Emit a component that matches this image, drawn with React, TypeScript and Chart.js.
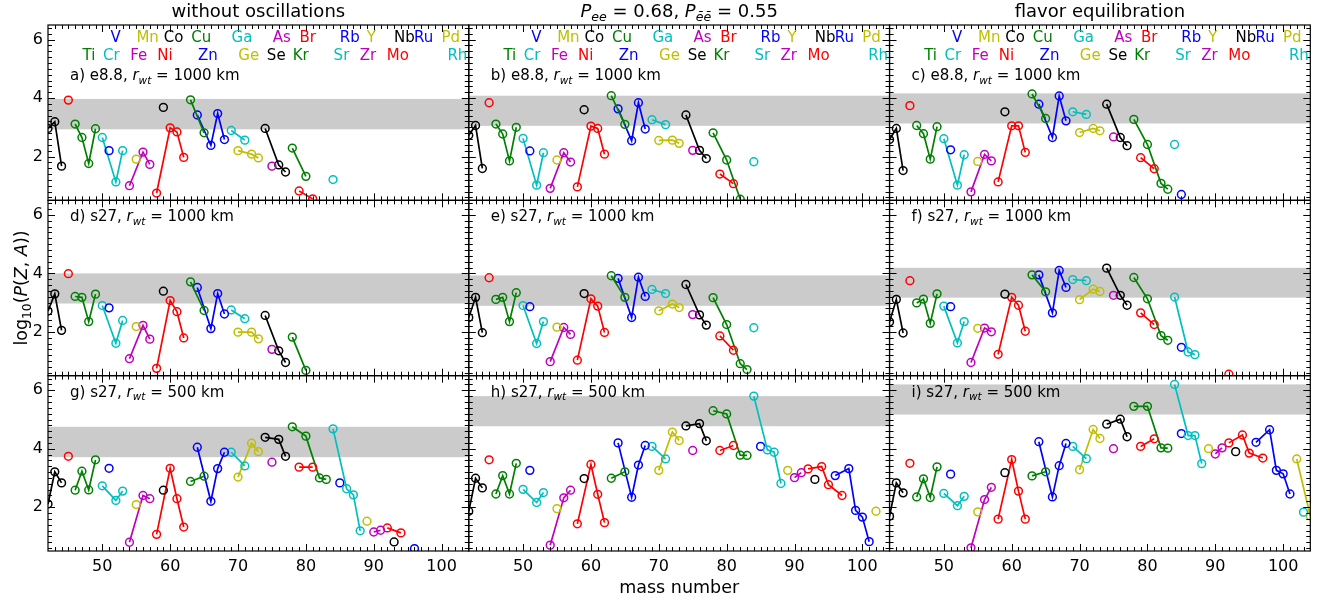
import React, { useEffect, useRef } from 'react';
import { Chart, registerables } from 'chart.js';

Chart.register(...registerables);

type Chain = [string, number[], number[]];

// ---------- axes ----------
const X_MIN = 42;
const X_MAX = 104;
const Y_MIN = 0.5;
const Y_MAX = 6.5;
const X_MAJOR = [50, 60, 70, 80, 90, 100];
const Y_MAJOR = [2, 4, 6];

// ---------- element colours (matplotlib classic cycle by Z) ----------
const ELEMENT_Z: Record<string, number> = {
  Ca: 20, Sc: 21, Ti: 22, V: 23, Cr: 24, Mn: 25, Fe: 26, Co: 27, Ni: 28, Cu: 29,
  Zn: 30, Ga: 31, Ge: 32, As: 33, Se: 34, Br: 35, Kr: 36, Rb: 37, Sr: 38, Y: 39,
  Zr: 40, Nb: 41, Mo: 42, Tc: 43, Ru: 44, Rh: 45, Pd: 46,
};
const COLOR_CYCLE = ['#008000', '#0000ff', '#00bfbf', '#bfbf00', '#bf00bf', '#000000', '#ff0000'];

// ---------- element labels on the top row ----------
const LABELS_ROW1 = ['V', 'Mn', 'Co', 'Cu', 'Ga', 'As', 'Br', 'Rb', 'Y', 'Nb', 'Ru', 'Pd'];
const LABELS_ROW1_POS = [51.96, 56.68, 60.49, 64.59, 70.59, 76.45, 80.26, 86.47, 89.63, 94.52, 97.34, 101.34];
const LABELS_ROW2 = ['Ti', 'Cr', 'Fe', 'Ni', 'Zn', 'Ge', 'Se', 'Kr', 'Sr', 'Zr', 'Mo', 'Rh'];
const LABELS_ROW2_POS = [48.05, 51.33, 55.37, 59.23, 65.57, 71.58, 75.63, 79.23, 85.24, 89.14, 93.54, 102.32];

// ---------- titles ----------
const COL_TITLE_1 = 'without oscillations';
const COL_TITLE_3 = 'flavor equilibration';
const PANEL_TAGS = ['a) e8.8, ', 'b) e8.8, ', 'c) e8.8, ', 'd) s27, ', 'e) s27, ', 'f) s27, ', 'g) s27, ', 'h) s27, ', 'i) s27, '];
const PANEL_RWT = ['1000', '1000', '1000', '1000', '1000', '1000', '500', '500', '500'];

// ---------- grey bands [low, high] ----------
const BANDS: [number, number][] = [
  [2.93, 3.97], [3.05, 4.08], [3.13, 4.16],
  [2.97, 4.0], [2.89, 3.93], [3.17, 4.19],
  [3.71, 4.75], [4.77, 5.8], [5.17, 6.2],
];

// ---------- data: [element, mass numbers, log10 P] ----------
const panelA: Chain[] = [
  ['Ca', [42, 43, 44], [2.96, 3.19, 1.67]],
  ['Sc', [45], [3.93]],
  ['Ti', [46, 47, 48, 49], [3.11, 2.65, 1.76, 2.95]],
  ['V', [51], [2.2]],
  ['Cr', [50, 52, 53], [2.65, 1.13, 2.2]],
  ['Mn', [55], [1.91]],
  ['Fe', [54, 56, 57], [1.0, 2.15, 1.73]],
  ['Co', [59], [3.68]],
  ['Ni', [58, 60, 61, 62], [0.75, 2.98, 2.84, 1.97]],
  ['Cu', [63, 65], [3.94, 2.81]],
  ['Zn', [64, 66, 67, 68], [3.42, 2.38, 3.47, 2.58]],
  ['Ga', [69, 71], [2.89, 2.56]],
  ['Ge', [70, 72, 73], [2.2, 2.08, 1.95]],
  ['As', [75], [1.67]],
  ['Se', [74, 76, 77], [2.96, 1.71, 1.47]],
  ['Br', [79, 81], [0.82, 0.55]],
  ['Kr', [78, 80], [2.29, 1.32]],
  ['Sr', [84], [1.21]],
];

const panelB: Chain[] = [
  ['Ca', [42, 43, 44], [2.73, 3.06, 1.59]],
  ['Sc', [45], [3.84]],
  ['Ti', [46, 47, 48, 49], [3.11, 2.77, 1.85, 3.0]],
  ['V', [51], [2.19]],
  ['Cr', [50, 52, 53], [2.62, 1.02, 2.13]],
  ['Mn', [55], [1.88]],
  ['Fe', [54, 56, 57], [0.91, 2.13, 1.81]],
  ['Co', [59], [3.6]],
  ['Ni', [58, 60, 61, 62], [0.96, 3.04, 2.96, 2.08]],
  ['Cu', [63, 65], [4.08, 3.1]],
  ['Zn', [64, 66, 67, 68], [3.63, 2.54, 3.84, 2.94]],
  ['Ga', [69, 71], [3.26, 3.09]],
  ['Ge', [70, 72, 73], [2.55, 2.56, 2.45]],
  ['As', [75], [2.21]],
  ['Se', [74, 76, 77], [3.42, 2.21, 1.93]],
  ['Br', [79, 81], [1.4, 1.07]],
  ['Kr', [78, 80, 82], [2.81, 1.88, 0.54]],
  ['Sr', [84], [1.82]],
];

const panelC: Chain[] = [
  ['Ca', [42, 43, 44], [2.58, 2.96, 1.52]],
  ['Sc', [45], [3.74]],
  ['Ti', [46, 47, 48, 49], [3.06, 2.78, 1.91, 3.02]],
  ['V', [51], [2.23]],
  ['Cr', [50, 52, 53], [2.61, 1.02, 2.06]],
  ['Mn', [55], [1.83]],
  ['Fe', [54, 56, 57], [0.79, 2.07, 1.85]],
  ['Co', [59], [3.53]],
  ['Ni', [58, 60, 61, 62], [1.13, 3.05, 3.05, 2.14]],
  ['Cu', [63, 65], [4.14, 3.3]],
  ['Zn', [64, 66, 67, 68], [3.79, 2.65, 4.07, 3.22]],
  ['Ga', [69, 71], [3.53, 3.44]],
  ['Ge', [70, 72, 73], [2.82, 2.96, 2.88]],
  ['As', [75], [2.67]],
  ['Se', [74, 76, 77], [3.79, 2.65, 2.37]],
  ['Br', [79, 81], [1.96, 1.58]],
  ['Kr', [78, 80, 82, 83], [3.27, 2.41, 1.08, 0.88]],
  ['Sr', [84], [2.41]],
  ['Rb', [85], [0.7]],
];

const panelD: Chain[] = [
  ['Ca', [42, 43, 44], [2.71, 3.3, 2.05]],
  ['Sc', [45], [3.99]],
  ['Ti', [46, 47, 48, 49], [3.21, 3.18, 2.35, 3.29]],
  ['V', [51], [2.82]],
  ['Cr', [50, 52, 53], [2.9, 1.61, 2.39]],
  ['Mn', [55], [2.18]],
  ['Fe', [54, 56, 57], [1.08, 2.22, 1.75]],
  ['Co', [59], [3.39]],
  ['Ni', [58, 60, 61, 62], [0.75, 3.07, 2.69, 1.79]],
  ['Cu', [63, 65], [3.71, 2.73]],
  ['Zn', [64, 66, 67, 68], [3.52, 2.11, 3.31, 2.61]],
  ['Ga', [69, 71], [2.75, 2.45]],
  ['Ge', [70, 72, 73], [1.99, 1.99, 1.76]],
  ['As', [75], [1.4]],
  ['Se', [74, 76, 77], [2.56, 1.35, 0.95]],
  ['Kr', [78, 80], [1.82, 0.68]],
];

const panelE: Chain[] = [
  ['Ca', [42, 43, 44], [2.49, 3.18, 1.97]],
  ['Sc', [45], [3.85]],
  ['Ti', [46, 47, 48, 49], [3.11, 3.18, 2.35, 3.34]],
  ['V', [51], [2.86]],
  ['Cr', [50, 52, 53], [2.9, 1.6, 2.35]],
  ['Mn', [55], [2.16]],
  ['Fe', [54, 56, 57], [0.98, 2.15, 1.91]],
  ['Co', [59], [3.31]],
  ['Ni', [58, 60, 61, 62], [1.03, 3.13, 2.88, 1.98]],
  ['Cu', [63, 65], [3.92, 3.18]],
  ['Zn', [64, 66, 67, 68], [3.83, 2.49, 3.87, 3.21]],
  ['Ga', [69, 71], [3.45, 3.31]],
  ['Ge', [70, 72, 73], [2.72, 2.95, 2.83]],
  ['As', [75], [2.59]],
  ['Se', [74, 76, 77], [3.62, 2.58, 2.23]],
  ['Br', [79, 81], [1.86, 1.37]],
  ['Kr', [78, 80, 82, 83], [3.17, 2.25, 0.91, 0.71]],
  ['Sr', [84], [2.14]],
];

const panelF: Chain[] = [
  ['Ca', [42, 43, 44], [2.34, 3.11, 1.96]],
  ['Sc', [45], [3.75]],
  ['Ti', [46, 47, 48, 49], [2.99, 3.12, 2.29, 3.3]],
  ['V', [51], [2.86]],
  ['Cr', [50, 52, 53], [2.88, 1.62, 2.35]],
  ['Mn', [55], [2.12]],
  ['Fe', [54, 56, 57], [0.95, 2.13, 2.0]],
  ['Co', [59], [3.29]],
  ['Ni', [58, 60, 61, 62], [1.23, 3.18, 2.91, 2.02]],
  ['Cu', [63, 65], [3.95, 3.37]],
  ['Zn', [64, 66, 67, 68], [3.95, 2.65, 4.1, 3.52]],
  ['Ga', [69, 71], [3.79, 3.75]],
  ['Ge', [70, 72, 73], [3.1, 3.46, 3.38]],
  ['As', [75], [3.25]],
  ['Se', [74, 76, 77], [4.18, 3.25, 2.91]],
  ['Br', [79, 81], [2.65, 2.25]],
  ['Kr', [78, 80, 82, 83], [3.86, 3.13, 1.87, 1.71]],
  ['Sr', [84, 86, 87], [3.19, 1.31, 1.22]],
  ['Rb', [85], [1.47]],
  ['Mo', [92], [0.55]],
];

const panelG: Chain[] = [
  ['Ca', [42, 43, 44], [2.11, 3.21, 2.83]],
  ['Sc', [45], [3.74]],
  ['Ti', [46, 47, 48, 49], [2.58, 3.23, 2.59, 3.62]],
  ['V', [51], [3.33]],
  ['Cr', [50, 52, 53], [2.73, 2.23, 2.55]],
  ['Mn', [55], [2.09]],
  ['Fe', [54, 56, 57], [0.8, 2.4, 2.29]],
  ['Co', [59], [2.58]],
  ['Ni', [58, 60, 61, 62], [1.07, 3.33, 2.29, 1.32]],
  ['Cu', [63, 65], [2.88, 3.06]],
  ['Zn', [64, 66, 67, 68], [4.05, 2.2, 3.32, 3.88]],
  ['Ga', [69, 71], [3.88, 3.41]],
  ['Ge', [70, 72, 73], [3.03, 4.19, 3.9]],
  ['As', [75], [3.54]],
  ['Se', [74, 76, 77], [4.39, 4.32, 3.74]],
  ['Br', [79, 81], [3.37, 3.37]],
  ['Kr', [78, 80, 82, 83], [4.75, 4.43, 3.0, 2.95]],
  ['Sr', [84, 86, 87, 88], [4.68, 2.63, 2.42, 1.19]],
  ['Rb', [85], [2.83]],
  ['Y', [89], [1.52]],
  ['Zr', [90, 91], [1.15, 1.21]],
  ['Nb', [93], [0.81]],
  ['Mo', [92, 94], [1.29, 1.12]],
  ['Ru', [96], [0.58]],
];

const panelH: Chain[] = [
  ['Ca', [42, 43, 44], [1.86, 2.99, 2.66]],
  ['Sc', [45], [3.62]],
  ['Ti', [46, 47, 48, 49], [2.45, 3.08, 2.45, 3.5]],
  ['V', [51], [3.26]],
  ['Cr', [50, 52, 53], [2.61, 2.16, 2.5]],
  ['Mn', [55], [1.95]],
  ['Fe', [54, 56, 57], [0.7, 2.32, 2.58]],
  ['Co', [59], [2.98]],
  ['Ni', [58, 60, 61, 62], [1.43, 3.46, 2.44, 1.47]],
  ['Cu', [63, 65], [2.99, 3.21]],
  ['Zn', [64, 66, 67, 68], [4.2, 2.34, 3.44, 4.11]],
  ['Ga', [69, 71], [4.08, 3.65]],
  ['Ge', [70, 72, 73], [3.26, 4.57, 4.28]],
  ['As', [75], [3.94]],
  ['Se', [74, 76, 77], [4.78, 4.86, 4.27]],
  ['Br', [79, 81], [3.94, 4.11]],
  ['Kr', [78, 80, 82, 83], [5.3, 5.19, 3.78, 3.77]],
  ['Sr', [84, 86, 87, 88], [5.8, 3.96, 3.88, 2.81]],
  ['Rb', [85], [4.08]],
  ['Y', [89], [3.26]],
  ['Zr', [90, 91], [3.01, 3.18]],
  ['Nb', [93], [2.95]],
  ['Mo', [92, 94, 95, 97], [3.31, 3.39, 2.77, 2.4]],
  ['Ru', [96, 98, 99, 100, 101], [3.08, 3.32, 1.89, 1.66, 0.82]],
  ['Pd', [102], [1.86]],
];

const panelI: Chain[] = [
  ['Ca', [42, 43, 44], [1.69, 2.83, 2.49]],
  ['Sc', [45], [3.5]],
  ['Ti', [46, 47, 48, 49], [2.35, 2.97, 2.33, 3.38]],
  ['V', [51], [3.13]],
  ['Cr', [50, 52, 53], [2.47, 2.05, 2.37]],
  ['Mn', [55], [1.84]],
  ['Fe', [54, 56, 57], [0.61, 2.26, 2.68]],
  ['Co', [59], [3.18]],
  ['Ni', [58, 60, 61, 62], [1.59, 3.63, 2.55, 1.59]],
  ['Cu', [63, 65], [3.07, 3.21]],
  ['Zn', [64, 66, 67, 68], [4.24, 2.35, 3.42, 4.18]],
  ['Ga', [69, 71], [4.08, 3.66]],
  ['Ge', [70, 72, 73], [3.28, 4.66, 4.35]],
  ['As', [75], [4.0]],
  ['Se', [74, 76, 77], [4.84, 5.01, 4.41]],
  ['Br', [79, 81], [4.08, 4.34]],
  ['Kr', [78, 80, 82, 83], [5.45, 5.45, 4.03, 4.02]],
  ['Sr', [84, 86, 87, 88], [6.2, 4.45, 4.45, 3.49]],
  ['Rb', [85], [4.52]],
  ['Y', [89], [4.0]],
  ['Zr', [90, 91], [3.82, 4.03]],
  ['Nb', [93], [3.9]],
  ['Mo', [92, 94, 95, 97], [4.2, 4.47, 3.85, 3.68]],
  ['Ru', [96, 98, 99, 100, 101], [4.22, 4.65, 3.26, 3.14, 2.45]],
  ['Rh', [103], [1.83]],
  ['Pd', [102, 104], [3.65, 1.7]],
];

const PANELS: Chain[][] = [panelA, panelB, panelC, panelD, panelE, panelF, panelG, panelH, panelI];

// ---------- drawing helpers ----------
const FAM = "'DejaVu Sans', 'Noto Sans', sans-serif";
type Seg = { t: string; it?: boolean; sub?: boolean };

function fontOf(size: number, it?: boolean) {
  return `${it ? 'italic ' : ''}${size}px ${FAM}`;
}

function drawRich(ctx: CanvasRenderingContext2D, segs: Seg[], x: number, y: number, size: number, align: 'left' | 'center', color = '#000') {
  const widths = segs.map((s) => {
    ctx.font = fontOf(s.sub ? size * 0.7 : size, s.it);
    return ctx.measureText(s.t).width;
  });
  const total = widths.reduce((a, b) => a + b, 0);
  let cx = align === 'center' ? x - total / 2 : x;
  ctx.fillStyle = color;
  ctx.textAlign = 'left';
  ctx.textBaseline = 'alphabetic';
  segs.forEach((s, i) => {
    ctx.font = fontOf(s.sub ? size * 0.7 : size, s.it);
    ctx.fillText(s.t, cx, y + (s.sub ? size * 0.24 : 0));
    cx += widths[i];
  });
}

function colorOf(el: string) {
  const z = ELEMENT_Z[el];
  return COLOR_CYCLE[(((z - 22) % 7) + 7) % 7];
}

const panelPlugin = {
  id: 'panelDecor',
  beforeDatasetsDraw(chart: any) {
    const ctx: CanvasRenderingContext2D = chart.ctx;
    ctx.save();
    ctx.fillStyle = '#cbcbcb';
    for (let p = 0; p < 9; p++) {
      const xs = chart.scales['x' + (p % 3)];
      const ys = chart.scales['y' + Math.floor(p / 3)];
      const [lo, hi] = BANDS[p];
      const t = ys.getPixelForValue(hi);
      const b = ys.getPixelForValue(lo);
      ctx.fillRect(xs.left, t, xs.right - xs.left, b - t);
    }
    ctx.restore();
  },
  beforeDatasetDraw(chart: any, args: any) {
    const ctx: CanvasRenderingContext2D = chart.ctx;
    const xs = args.meta.xScale;
    const ys = args.meta.yScale;
    ctx.save();
    ctx.beginPath();
    ctx.rect(xs.left, ys.top, xs.right - xs.left, ys.bottom - ys.top);
    ctx.clip();
  },
  afterDatasetDraw(chart: any) {
    chart.ctx.restore();
  },
  afterDraw(chart: any) {
    const ctx: CanvasRenderingContext2D = chart.ctx;
    ctx.save();
    for (let p = 0; p < 9; p++) {
      const r = Math.floor(p / 3);
      const c = p % 3;
      const xs = chart.scales['x' + c];
      const ys = chart.scales['y' + r];
      const L = xs.left, R = xs.right, T = ys.top, B = ys.bottom;
      // ticks (inward, all four sides)
      ctx.strokeStyle = '#000';
      ctx.lineWidth = 1;
      ctx.beginPath();
      for (let a = X_MIN + 1; a < X_MAX; a++) {
        const px = Math.round(xs.getPixelForValue(a)) + 0.5;
        const len = a % 10 === 0 ? 7 : 4;
        ctx.moveTo(px, B); ctx.lineTo(px, B - len);
        ctx.moveTo(px, T); ctx.lineTo(px, T + len);
      }
      for (let k = 3; k <= 32; k++) {
        const py = Math.round(ys.getPixelForValue(k * 0.2)) + 0.5;
        const len = k % 10 === 0 ? 7 : 4;
        ctx.moveTo(L, py); ctx.lineTo(L + len, py);
        ctx.moveTo(R, py); ctx.lineTo(R - len, py);
      }
      ctx.stroke();
      ctx.lineWidth = 1.2;
      ctx.strokeRect(L, T, R - L, B - T);

      // panel label
      const base = r === 0 ? T + 55 : T + 21;
      drawRich(ctx, [
        { t: PANEL_TAGS[p] },
        { t: 'r', it: true },
        { t: 'wt', it: true, sub: true },
        { t: ' = ' + PANEL_RWT[p] + ' km' },
      ], L + 22, base, 15, 'left');

      // element labels on top row
      if (r === 0) {
        ctx.font = fontOf(15);
        ctx.textAlign = 'center';
        ctx.textBaseline = 'alphabetic';
        LABELS_ROW1.forEach((el, i) => {
          ctx.fillStyle = colorOf(el);
          ctx.fillText(el, xs.getPixelForValue(LABELS_ROW1_POS[i]), T + 17);
        });
        LABELS_ROW2.forEach((el, i) => {
          ctx.fillStyle = colorOf(el);
          ctx.fillText(el, xs.getPixelForValue(LABELS_ROW2_POS[i]), T + 34.5);
        });
        // column titles
        const cxm = (L + R) / 2;
        if (c === 0) drawRich(ctx, [{ t: COL_TITLE_1 }], cxm, 17, 18, 'center');
        if (c === 1) drawRich(ctx, [
          { t: 'P', it: true }, { t: 'ee', it: true, sub: true }, { t: ' = 0.68, ' },
          { t: 'P', it: true }, { t: '\u0113\u0113', it: true, sub: true }, { t: ' = 0.55' },
        ], cxm, 17, 18, 'center');
        if (c === 2) drawRich(ctx, [{ t: COL_TITLE_3 }], cxm, 17, 18, 'center');
      }
    }
    // x title
    const xm = chart.scales['x1'];
    drawRich(ctx, [{ t: 'mass number' }], (xm.left + xm.right) / 2, 593, 17.5, 'center');
    // y title
    const ym = chart.scales['y1'];
    ctx.save();
    ctx.translate(27, (ym.top + ym.bottom) / 2);
    ctx.rotate(-Math.PI / 2);
    drawRich(ctx, [
      { t: 'log' }, { t: '10', sub: true }, { t: '(' }, { t: 'P', it: true }, { t: '(' },
      { t: 'Z', it: true }, { t: ', ' }, { t: 'A', it: true }, { t: '))' },
    ], 0, 0, 17.5, 'center');
    ctx.restore();
    ctx.restore();
  },
};

function buildDatasets() {
  const out: any[] = [];
  PANELS.forEach((chains, p) => {
    chains.forEach(([el, masses, vals]) => {
      const col = colorOf(el);
      out.push({
        label: `${el}-${p}`,
        data: masses.map((m, i) => ({ x: m, y: vals[i] })),
        xAxisID: 'x' + (p % 3),
        yAxisID: 'y' + Math.floor(p / 3),
        borderColor: col,
        backgroundColor: col,
        borderWidth: 1.7,
        pointRadius: 3.9,
        pointBorderWidth: 1.5,
        pointBorderColor: col,
        pointBackgroundColor: 'rgba(0,0,0,0)',
        pointHoverRadius: 3.9,
        tension: 0,
        fill: false,
        clip: 0,
      });
    });
  });
  return out;
}

function xAxis(i: number) {
  return {
    type: 'linear',
    position: 'bottom',
    stack: 'xs',
    stackWeight: 1,
    weight: i + 1,
    min: X_MIN,
    max: X_MAX,
    afterBuildTicks: (s: any) => { s.ticks = X_MAJOR.map((v) => ({ value: v })); },
    afterFit: (s: any) => { s.height = 47; },
    grid: { display: false, drawTicks: false },
    border: { display: false },
    ticks: { color: '#000', font: { family: FAM, size: 16 }, padding: 6, maxRotation: 0, autoSkip: false },
  };
}

function yAxis(i: number) {
  return {
    type: 'linear',
    position: 'left',
    stack: 'ys',
    stackWeight: 1,
    weight: 3 - i,
    min: Y_MIN,
    max: Y_MAX,
    afterBuildTicks: (s: any) => { s.ticks = Y_MAJOR.map((v) => ({ value: v })); },
    afterFit: (s: any) => { s.width = 48; },
    grid: { display: false, drawTicks: false },
    border: { display: false },
    ticks: { color: '#000', font: { family: FAM, size: 16 }, padding: 5, autoSkip: false },
  };
}

export default function App() {
  const ref = useRef<HTMLCanvasElement | null>(null);
  useEffect(() => {
    document.body.style.margin = '0';
    if (!ref.current) return;
    const chart = new Chart(ref.current, {
      type: 'line',
      data: { datasets: buildDatasets() },
      options: {
        responsive: false,
        animation: false,
        events: [],
        layout: { padding: { top: 25, right: 12, left: 0, bottom: 0 } },
        plugins: { legend: { display: false }, tooltip: { enabled: false }, title: { display: false } },
        scales: {
          x0: xAxis(0), x1: xAxis(1), x2: xAxis(2),
          y0: yAxis(0), y1: yAxis(1), y2: yAxis(2),
        } as any,
      },
      plugins: [panelPlugin as any],
    } as any);
    return () => chart.destroy();
  }, []);
  return (
    <canvas ref={ref} width={1328} height={598} style={{ display: 'block', width: 1328, height: 598 }} />
  );
}
